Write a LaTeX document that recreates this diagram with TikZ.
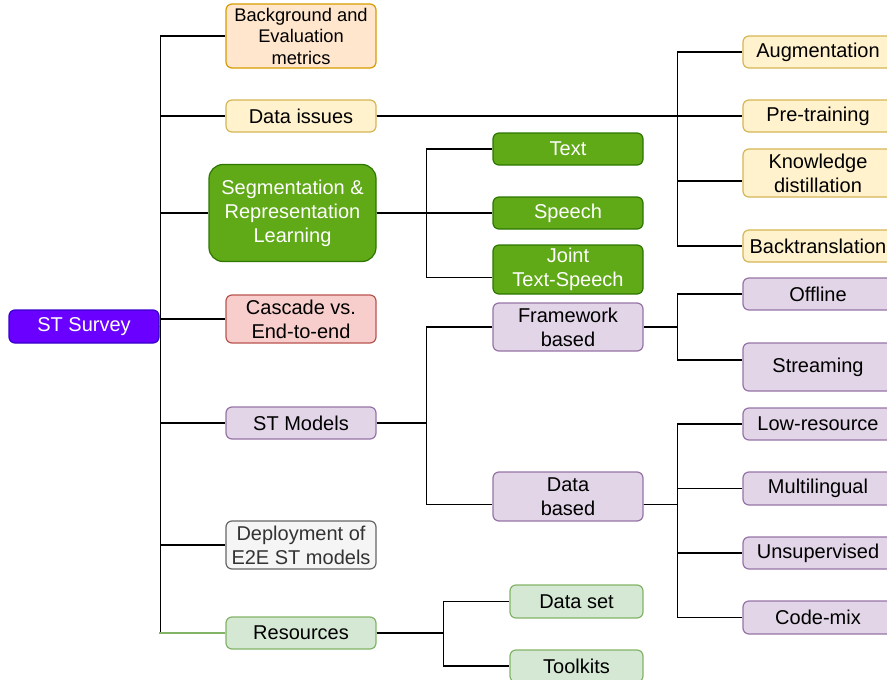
\documentclass[tikz,border=0pt]{standalone}
\usepackage{fontspec}
\setmainfont{Liberation Sans}
\usepackage{tikz}
\usetikzlibrary{positioning}

\definecolor{rootfill}{HTML}{6A00FF}\definecolor{rootline}{HTML}{3700CC}
\definecolor{orfill}{HTML}{FFE6CC}\definecolor{orline}{HTML}{D79B00}
\definecolor{yefill}{HTML}{FFF2CC}\definecolor{yeline}{HTML}{D6B656}
\definecolor{grfill}{HTML}{60A917}\definecolor{grline}{HTML}{2D7600}
\definecolor{rdfill}{HTML}{F8CECC}\definecolor{rdline}{HTML}{B85450}
\definecolor{pufill}{HTML}{E1D5E7}\definecolor{puline}{HTML}{9673A6}
\definecolor{gyfill}{HTML}{F5F5F5}\definecolor{gyline}{HTML}{666666}
\definecolor{ltfill}{HTML}{D5E8D4}\definecolor{ltline}{HTML}{82B366}

\tikzset{
  box/.style={rectangle, rounded corners=6pt, line width=1.2pt, align=center,
    inner sep=0pt, minimum width=150pt, minimum height=32pt,
    font=\fontsize{20}{24}\selectfont},
  rootbox/.style={box, fill=rootfill, draw=rootline, text=white},
  orbox/.style={box, fill=orfill, draw=orline},
  yebox/.style={box, fill=yefill, draw=yeline},
  grbox/.style={box, fill=grfill, draw=grline, text=white},
  rdbox/.style={box, fill=rdfill, draw=rdline},
  pubox/.style={box, fill=pufill, draw=puline},
  gybox/.style={box, fill=gyfill, draw=gyline, text=black!80},
  ltbox/.style={box, fill=ltfill, draw=ltline},
  link/.style={line width=1.2pt, black}
}

\begin{document}
\begin{tikzpicture}[x=1pt,y=-1pt]
\clip (0,0) rectangle (887,680);

\node[rootbox, minimum height=33pt] (root) at (84,326.5) {ST Survey};

\node[orbox, minimum height=64pt, font=\fontsize{18.3}{21.5}\selectfont] (bg) at (301,36) {Background and\\Evaluation\\metrics};
\node[yebox] (data) at (301,116) {Data issues};
\node[grbox, minimum width=167pt, minimum height=97pt, rounded corners=14pt] (seg) at (292.5,213) {Segmentation \&\\Representation\\Learning};
\node[rdbox, minimum height=48pt] (casc) at (301,319) {Cascade vs.\\End-to-end};
\node[pubox] (models) at (301,423) {ST Models};
\node[gybox, minimum height=48pt] (deploy) at (301,545) {Deployment of\\E2E ST models};
\node[ltbox] (res) at (301,633) {Resources};

\node[grbox] (text) at (568,149) {Text};
\node[grbox] (speech) at (568,213) {Speech};
\node[grbox, minimum height=49pt] (joint) at (568,269.5) {Joint\\Text-Speech};
\node[pubox, minimum height=48pt] (frame) at (568,327) {Framework\\based};
\node[pubox, minimum height=49pt] (dbased) at (568,496.5) {Data\\based};
\node[ltbox, minimum width=133pt, minimum height=33pt] (dset) at (576.5,601.5) {Data set};
\node[ltbox, minimum width=133pt] (tools) at (576.5,666) {Toolkits};

\node[yebox] (aug) at (818,52) {Augmentation};
\node[yebox] (pre) at (818,116) {Pre-training};
\node[yebox, minimum height=48pt] (know) at (818,173) {Knowledge\\distillation};
\node[yebox] (back) at (818,246) {Backtranslation};
\node[pubox] (off) at (818,294) {Offline};
\node[pubox, minimum height=48pt] (stream) at (818,367) {Streaming};
\node[pubox] (low) at (818,424) {Low-resource};
\node[pubox, minimum height=33pt] (multi) at (818,488.5) {Multilingual};
\node[pubox] (unsup) at (818,553) {Unsupervised};
\node[pubox, minimum height=33pt] (code) at (818,617.5) {Code-mix};

% connectors (\s shifts the joint off the box centre)
\foreach \c in {bg,data,seg,casc,models,deploy,res}
  \draw[link] (root.east) -- ++(1,0) |- (\c.west);
\draw[link, ltline] (res.west) -- ++(-66,0);

\foreach \c/\s in {aug/0,pre/0,know/-8,back/0}
  \draw[link] (data.east) -- ++(301,0) |- ([yshift=\s pt]\c.west);
\foreach \c/\s in {text/0,speech/0,joint/-8}
  \draw[link] (seg.east) -- ++(50,0) |- ([yshift=\s pt]\c.west);
\foreach \c/\s in {frame/0,dbased/-8}
  \draw[link] (models.east) -- ++(50,0) |- ([yshift=\s pt]\c.west);
\foreach \c/\s in {off/0,stream/7}
  \draw[link] (frame.east) -- ++(34,0) |- ([yshift=\s pt]\c.west);
\foreach \c in {low,multi,unsup,code}
  \draw[link] ([yshift=-8pt]dbased.east) -- ++(34,0) |- (\c.west);
\foreach \c in {dset,tools}
  \draw[link] (res.east) -- ++(67,0) |- (\c.west);
\end{tikzpicture}
\end{document}
